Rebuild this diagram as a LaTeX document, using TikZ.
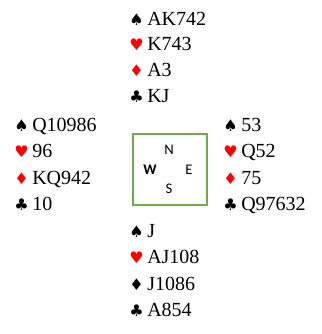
\documentclass[tikz,border=0pt]{standalone}
\usepackage{fontspec}
\setmainfont{Liberation Serif}
\newfontfamily\suitfont{DejaVu Sans}
\newfontfamily\compassfont{Carlito}
\usepackage{xcolor}
\usepackage{tikz}
\usetikzlibrary{positioning}
\definecolor{suitRed}{HTML}{FF0000}
\definecolor{tableGreen}{HTML}{70AD47}
\newcommand{\suitmark}[2]{\makebox[13.5pt][l]{\color{#1}\suitfont\fontsize{12}{12}\selectfont #2}}
\newcommand{\suitS}{\suitmark{black}{♠}}
\newcommand{\suitH}{\suitmark{suitRed}{♥}}
\newcommand{\suitD}{\suitmark{suitRed}{♦}}
\newcommand{\suitDb}{\suitmark{black}{♦}}
\newcommand{\suitC}{\suitmark{black}{♣}}

\begin{document}
\begin{tikzpicture}[
  x=0.75pt,y=-0.75pt,
  hand/.style={anchor=base west,inner sep=0pt,font=\fontsize{15}{18}\selectfont},
  dir/.style={inner sep=0pt,font=\compassfont\fontsize{11}{13}\selectfont},
  tbl/.style={draw=tableGreen,line width=1pt,inner sep=0pt,
              minimum width=55.5pt,minimum height=53.25pt}
]
\useasboundingbox (0,0) rectangle (321,334);
% north
\node[hand] (nS) at (129,26)  {\suitS AK742};
\node[hand] (nH) at (129,51)  {\suitH K743};
\node[hand] (nD) at (129,77)  {\suitD A3};
\node[hand] (nC) at (129,103) {\suitC KJ};
% west
\node[hand] (wS) at (14,131.5) {\suitS Q10986};
\node[hand] (wH) at (14,158)   {\suitH 96};
\node[hand] (wD) at (14,185)   {\suitD KQ942};
\node[hand] (wC) at (14,210.5) {\suitC 10};
% east
\node[hand] (eS) at (223,131.5) {\suitS 53};
\node[hand] (eH) at (223,158)   {\suitH Q52};
\node[hand] (eD) at (223,185)   {\suitD 75};
\node[hand] (eC) at (223,210.5) {\suitC Q97632};
% south
\node[hand] (sS) at (129,237)   {\suitS J};
\node[hand] (sH) at (129,263)   {\suitH AJ108};
\node[hand] (sD) at (129,290)   {\suitDb J1086};
\node[hand] (sC) at (129,316.5) {\suitC A854};
% table
\node[tbl] (table) at (170,169.5) {};
\node[dir] (dN) at (169,150) {N};
\node[dir] (dS) at (169,189) {S};
\node[dir] (dW) at (150,170) {\bfseries W};
\node[dir] (dE) at (189,170) {E};
\end{tikzpicture}
\end{document}
